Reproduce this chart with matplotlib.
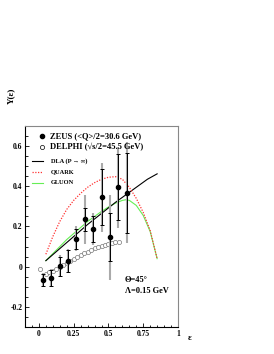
import numpy as np
import matplotlib
matplotlib.use("Agg")
import matplotlib.pyplot as plt
from matplotlib.lines import Line2D
from matplotlib.ticker import MultipleLocator

# ZEUS points (filled), stat errors (black) and total errors (grey)
zeus_eps = [0.03, 0.09, 0.15, 0.21, 0.27, 0.33, 0.39, 0.45, 0.51, 0.57, 0.63]
zeus_y = [-0.064, -0.054, 0.002, 0.03, 0.14, 0.235, 0.187, 0.345, 0.146, 0.395, 0.368]
zeus_stat = [0.03, 0.04, 0.048, 0.055, 0.05, 0.055, 0.065, 0.14, 0.12, 0.165, 0.2]
zeus_tot = [0.035, 0.045, 0.055, 0.06, 0.06, 0.12, 0.08, 0.17, 0.21, 0.2, 0.25]

# DELPHI points (open)
delphi_eps = [0.005, 0.05, 0.075, 0.10, 0.125, 0.15, 0.175, 0.20, 0.225, 0.25, 0.275, 0.30,
              0.325, 0.35, 0.375, 0.40, 0.425, 0.45, 0.475, 0.50, 0.525, 0.55, 0.575]
delphi_y = [-0.012, -0.035, -0.028, -0.02, -0.01, 0.0, 0.01, 0.02, 0.03, 0.04, 0.05, 0.058,
            0.067, 0.075, 0.084, 0.092, 0.098, 0.104, 0.109, 0.114, 0.118, 0.121, 0.123]

# theory curves
dla_eps = [0.05, 0.15, 0.25, 0.35, 0.45, 0.55, 0.63, 0.70, 0.78, 0.85]
dla_y = [0.03, 0.09, 0.15, 0.21, 0.265, 0.32, 0.36, 0.395, 0.435, 0.462]

quark_eps = [0.05, 0.10, 0.15, 0.20, 0.25, 0.30, 0.35, 0.40, 0.45, 0.50, 0.55, 0.60, 0.65,
             0.70, 0.75, 0.80, 0.85]
quark_y = [0.062, 0.15, 0.225, 0.285, 0.33, 0.365, 0.395, 0.418, 0.435, 0.445, 0.448, 0.435,
           0.395, 0.34, 0.27, 0.18, 0.04]

gluon_eps = [0.05, 0.10, 0.15, 0.20, 0.25, 0.30, 0.35, 0.40, 0.45, 0.50, 0.55, 0.60, 0.625,
             0.65, 0.70, 0.75, 0.80, 0.85]
gluon_y = [0.03, 0.065, 0.10, 0.135, 0.165, 0.195, 0.225, 0.25, 0.275, 0.297, 0.316, 0.33,
           0.333, 0.33, 0.305, 0.255, 0.175, 0.04]

xticks = [0, 0.25, 0.5, 0.75, 1]
xticklabels = ["0", "0.25", "0.5", "0.75", "1"]
yticks = [-0.2, 0, 0.2, 0.4, 0.6]
yticklabels = ["-0.2", "0", "0.2", "0.4", "0.6"]

W, H = 274, 354
serif = "Liberation Serif"

fig = plt.figure(figsize=(W / 100, H / 100), dpi=100)
ax = fig.add_axes([25 / W, 1 - 327 / H, 153 / W, 201 / H])

ax.plot(dla_eps, dla_y, color="black", lw=0.8, zorder=3)
ax.plot(quark_eps, quark_y, color="#ff3333", lw=0.9, ls=(0, (1, 1.2)), zorder=3)
ax.plot(gluon_eps, gluon_y, color="#66ee55", lw=0.8, zorder=2)

ax.plot(delphi_eps, delphi_y, ls="none", marker="o", ms=3, mfc="white", mec="#777777",
        mew=0.5, zorder=4)

ax.errorbar(zeus_eps, zeus_y, yerr=zeus_tot, fmt="none", ecolor="#aaaaaa", elinewidth=1.5,
            zorder=5)
ax.errorbar(zeus_eps, zeus_y, yerr=zeus_stat, fmt="o", color="black", ms=3, elinewidth=0.7,
            capsize=1.6, capthick=0.7, zorder=6)

ax.set_xlim(-0.1, 1.0)
ax.set_ylim(-0.3, 0.7)
ax.set_xticks(xticks)
ax.set_xticklabels(xticklabels)
ax.set_yticks(yticks)
ax.set_yticklabels(yticklabels)
ax.xaxis.set_minor_locator(MultipleLocator(0.05))
ax.yaxis.set_minor_locator(MultipleLocator(0.05))
ax.tick_params(which="both", direction="in", top=False, right=False, width=0.6,
               labelsize=5.5, pad=2)
ax.tick_params(which="major", length=3.2)
ax.tick_params(which="minor", length=1.8)
for lab in ax.get_xticklabels() + ax.get_yticklabels():
    lab.set_fontfamily(serif)
    lab.set_fontweight("bold")

ax.spines["left"].set_color("black")
ax.spines["bottom"].set_color("black")
ax.spines["top"].set_color("#888888")
ax.spines["right"].set_color("#888888")
for s in ax.spines.values():
    s.set_linewidth(0.8)

# axis titles
fig.text(11 / W, 1 - 96 / H, "Y(ε)", rotation=90, ha="center", va="center",
         fontsize=6.5, family=serif, weight="bold")
fig.text(190 / W, 1 - 338 / H, "ε", ha="center", va="center", fontsize=6.5,
         family=serif, weight="bold")

# legend, data sets
fig.lines.append(Line2D([42 / W], [1 - 136 / H], marker="o", ms=3, color="black",
                        transform=fig.transFigure))
fig.lines.append(Line2D([42 / W], [1 - 147 / H], marker="o", ms=3, mfc="white",
                        mec="black", mew=0.5, transform=fig.transFigure))
fig.text(50 / W, 1 - 136 / H, "ZEUS (<Q>/2=30.6 GeV)", ha="left", va="center",
         fontsize=6.1, family=serif, weight="bold")
fig.text(50 / W, 1 - 147 / H, "DELPHI (√s/2=45.5 GeV)", ha="left", va="center",
         fontsize=6.1, family=serif, weight="bold")

# legend, curves
fig.lines.append(Line2D([32 / W, 43 / W], [1 - 161 / H] * 2, color="black", lw=0.8,
                        transform=fig.transFigure))
fig.lines.append(Line2D([32 / W, 43 / W], [1 - 172 / H] * 2, color="#ff3333", lw=0.9,
                        ls=(0, (1, 1.2)), transform=fig.transFigure))
fig.lines.append(Line2D([32 / W, 43 / W], [1 - 183 / H] * 2, color="#66ee55", lw=0.8,
                        transform=fig.transFigure))
fig.text(51 / W, 1 - 161 / H, "DLA (P → ∞)", ha="left", va="center", fontsize=4.6,
         family=[serif, "DejaVu Serif"], weight="bold")
fig.text(51 / W, 1 - 172 / H, "QUARK", ha="left", va="center", fontsize=4.6,
         family=serif, weight="bold")
fig.text(51 / W, 1 - 183 / H, "GLUON", ha="left", va="center", fontsize=4.6,
         family=serif, weight="bold")

# parameters
fig.text(125 / W, 1 - 280 / H, "Θ=45°", ha="left", va="center",
         fontsize=6, family=serif, weight="bold")
fig.text(125 / W, 1 - 291 / H, "Λ=0.15 GeV", ha="left", va="center",
         fontsize=6, family=serif, weight="bold")

fig.savefig("out.png", dpi=100)
